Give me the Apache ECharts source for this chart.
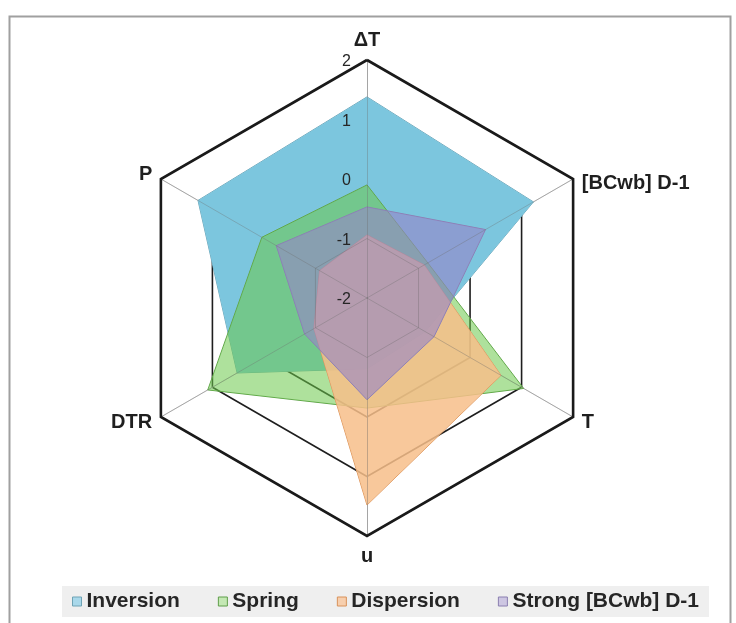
<!DOCTYPE html>
<html>
<head>
<meta charset="utf-8">
<script src="https://cdn.jsdelivr.net/npm/echarts@6/dist/echarts.min.js"></script>
<style>
  html, body { margin: 0; padding: 0; background: #ffffff; }
  #chart { width: 736px; height: 623px; }
</style>
</head>
<body>
<div id="chart"></div>
<script>
// Axes, listed counter-clockwise from the top
const indicatorNames = ['ΔT', 'P', 'DTR', 'u', 'T', '[BCwb] D-1'];
const seriesNames = ['Inversion', 'Spring', 'Dispersion', 'Strong [BCwb] D-1'];

// Standardised anomalies per regime, same axis order as indicatorNames
const inversion  = [1.38, 1.28, 0.52, -0.81, -0.87, 1.23];
const spring     = [-0.10, 0.04, 1.09, -0.15, 1.04, -0.82];
const dispersion = [-0.94, -1.08, -0.97, 1.48, 0.60, -0.89];
const strong     = [-0.47, -0.24, -0.79, -0.29, -0.70, 0.30];

// Value scale shared by all axes
const axisMin = -2;
const axisMax = 2;
const axisStep = 1;

const seriesValues = [inversion, spring, dispersion, strong];
const fillColors = ['rgb(124,198,222)', 'rgb(108,201,74)', 'rgb(247,190,137)', 'rgb(150,132,200)'];
const fillOpacity = [1, 0.55, 0.85, 0.6];
const edgeColors = ['#6ea3b5', '#5f9e4a', '#d9925a', '#8a7fb0'];
const legendFill = ['#a9d8ea', '#c4e8b4', '#f7cfae', '#cdc6e2'];

const FONT = '"Liberation Sans", Arial, sans-serif';
const CENTER = [367, 298];
const RADIUS = 238;

const chart = echarts.init(document.getElementById('chart'), null, { renderer: 'canvas' });

const baseRadar = {
  center: CENTER,
  radius: RADIUS,
  startAngle: 90,
  shape: 'polygon',
  splitArea: { show: false },
  axisTick: { show: false },
  axisLabel: { show: false }
};

const option = {
  backgroundColor: '#ffffff',
  animation: false,
  graphic: [{
    type: 'rect',
    left: 7, top: 14,
    shape: { width: 721, height: 640 },
    style: { fill: 'none', stroke: '#a0a0a0', lineWidth: 2 },
    silent: true
  }],
  legend: {
    left: 62,
    top: 586,
    backgroundColor: '#efefef',
    padding: [5, 10, 5, 10],
    itemGap: 38,
    itemWidth: 9,
    itemHeight: 9,
    icon: 'rect',
    textStyle: { fontSize: 21, fontWeight: 'bold', color: '#262626', fontFamily: FONT },
    data: seriesNames.map((n, i) => ({
      name: n,
      itemStyle: { color: legendFill[i], borderColor: edgeColors[i], borderWidth: 1 }
    }))
  },
  // Value scale printed along the upward axis
  grid: { left: CENTER[0], top: CENTER[1] - RADIUS + 2, width: 10, height: RADIUS },
  xAxis: { type: 'value', show: false, min: 0, max: 1 },
  yAxis: {
    type: 'value', min: axisMin, max: axisMax, interval: axisStep,
    axisLine: { show: false }, axisTick: { show: false }, splitLine: { show: false },
    axisLabel: { margin: 16, fontSize: 16, color: '#262626', fontFamily: FONT },
    z: 8
  },
  radar: [
    // Under the fills: axis names, spokes and rings
    Object.assign({}, baseRadar, {
      z: 0,
      splitNumber: 4,
      indicator: indicatorNames.map(n => ({ name: n, min: axisMin, max: axisMax })),
      axisName: {
        color: '#1f1f1f', fontWeight: 'bold', fontSize: 20, fontFamily: FONT,
        formatter: n => (n === '[BCwb] D-1' ? '{low|' + n + '}' : n),
        rich: { low: { padding: [18, 0, 0, 0], fontWeight: 'bold', fontSize: 20, fontFamily: FONT, color: '#1f1f1f' } }
      },
      nameGap: 10,
      splitLine: { lineStyle: { color: ['#bdbdbd', '#1e1e1e', '#1e1e1e', '#1e1e1e'], width: 1.6 } },
      axisLine: { lineStyle: { color: '#c4c4c4', width: 1 } }
    }),
    // Over the fills: spokes and inner rings seen through the areas
    Object.assign({}, baseRadar, {
      z: 5,
      splitNumber: 4,
      indicator: indicatorNames.map(() => ({ name: '', min: axisMin, max: axisMax })),
      axisName: { show: false },
      splitLine: { lineStyle: { color: ['rgba(90,90,90,0.28)', 'rgba(90,90,90,0.28)', 'rgba(0,0,0,0)', 'rgba(0,0,0,0)'], width: 1 } },
      axisLine: { lineStyle: { color: 'rgba(110,110,110,0.35)', width: 1 } }
    }),
    // Outer frame of the web
    Object.assign({}, baseRadar, {
      z: 6,
      splitNumber: 1,
      indicator: indicatorNames.map(() => ({ name: '', min: axisMin, max: axisMax })),
      axisName: { show: false },
      splitLine: { lineStyle: { color: '#1a1a1a', width: 2.6 } },
      axisLine: { show: false }
    })
  ],
  series: [{
    type: 'radar',
    radarIndex: 0,
    z: 2,
    symbol: 'none',
    data: seriesValues.map((vals, i) => ({
      name: seriesNames[i],
      value: vals,
      areaStyle: { color: fillColors[i], opacity: fillOpacity[i] },
      lineStyle: { color: edgeColors[i], width: 1 }
    }))
  }]
};

chart.setOption(option);
</script>
</body>
</html>
